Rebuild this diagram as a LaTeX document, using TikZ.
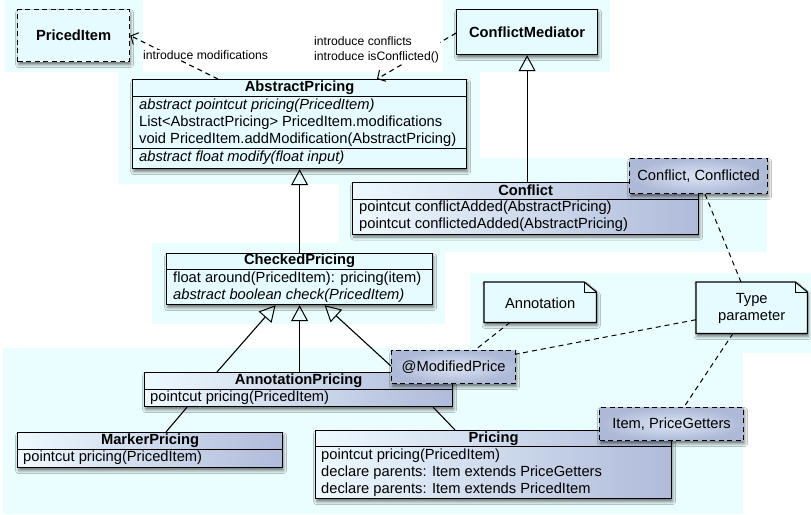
\documentclass[tikz,border=0pt]{standalone}
\usepackage{fontspec}
\setmainfont{Liberation Sans}
\usetikzlibrary{arrows.meta,shadows.blur}

\definecolor{patch}{HTML}{EBFEFF}
\definecolor{pale}{HTML}{E6FBFF}
\definecolor{gradlo}{HTML}{EEF9FF}
\definecolor{gradhi}{HTML}{AFBBD9}
\definecolor{tagin}{HTML}{DCE5F3}
\definecolor{tagout}{HTML}{AEB9D7}

\tikzset{
  castshadow/.style={blur shadow={shadow xshift=1pt, shadow yshift=-3pt,
      shadow blur radius=3pt, shadow opacity=55}},
  box/.style={draw=black, line width=1.2pt, rectangle, inner sep=0pt,
      anchor=north west, castshadow},
  plainbox/.style={box, fill=pale},
  gradbox/.style={box, left color=gradlo, right color=gradhi},
  tagbox/.style={box, dash pattern=on 5pt off 3.5pt, inner color=tagin, outer color=tagout,
      font=\fontsize{14.7}{17}\selectfont},
  notebox/.style={inner sep=0pt, anchor=north west},
  notefill/.style={draw=black, line width=1.2pt, fill=pale, castshadow, line join=miter},
  ttl/.style={font=\bfseries\fontsize{14.7}{17}\selectfont, inner sep=0pt},
  row/.style={font=\fontsize{14.7}{17}\selectfont, inner sep=0pt, anchor=west},
  irow/.style={row, font=\itshape\fontsize{14.7}{17}\selectfont},
  txt/.style={font=\fontsize{14.7}{17}\selectfont, inner sep=0pt, align=center},
  lbl/.style={font=\fontsize{12.2}{15}\selectfont, inner sep=1pt, fill=white, align=left, anchor=west},
  divider/.style={line width=1pt},
  gen/.style={line width=1.1pt, -{Triangle[open, length=16pt, width=17pt, line width=1pt]}},
  dep/.style={line width=1.1pt, dash pattern=on 5pt off 4pt,
      -{Straight Barb[length=6pt, width=13pt, line width=1pt]}},
  assoc/.style={line width=1.1pt},
  tie/.style={line width=1pt, dash pattern=on 5pt off 4pt},
}

\begin{document}
\begin{tikzpicture}[x=1pt, y=-1pt]
  \useasboundingbox (0,0) rectangle (811,514);
  \fill[white] (0,0) rectangle (811,514);

  % pale cyan layout regions
  \fill[patch] (4,0) rectangle (143,72);
  \fill[patch] (443,0) rectangle (610,72);
  \fill[patch] (118,72) rectangle (480,184);
  \fill[patch] (339,158) rectangle (767,252);
  \fill[patch] (152,243) rectangle (445,324);
  \fill[patch] (470,273) rectangle (811,353);
  \fill[patch] (3,348) rectangle (743,514);

  % ---------- PricedItem ----------
  \node[plainbox, dash pattern=on 5pt off 3.5pt, minimum width=112pt, minimum height=52pt,
        font=\bfseries\fontsize{14.7}{17}\selectfont] (pi) at (17,9) {PricedItem};

  % ---------- ConflictMediator ----------
  \node[plainbox, minimum width=141pt, minimum height=45pt,
        font=\bfseries\fontsize{14.7}{17}\selectfont] (cm) at (456,9) {ConflictMediator};

  % ---------- AbstractPricing ----------
  \node[plainbox, minimum width=334pt, minimum height=89pt] (abs) at (132,79) {};
  \node[ttl] at ([yshift=-8.5pt]abs.north) {AbstractPricing};
  \draw[divider] ([yshift=-17.5pt]abs.north west) -- ([yshift=-17.5pt]abs.north east);
  \node[irow] at ([xshift=7pt, yshift=-27pt]abs.north west) {abstract pointcut pricing(PricedItem)};
  \node[row]  at ([xshift=7pt, yshift=-44pt]abs.north west) {List<AbstractPricing> PricedItem.modifications};
  \node[row]  at ([xshift=7pt, yshift=-61pt]abs.north west) {void PricedItem.addModification(AbstractPricing)};
  \draw[divider] ([yshift=-69pt]abs.north west) -- ([yshift=-69pt]abs.north east);
  \node[irow] at ([xshift=7pt, yshift=-79pt]abs.north west) {abstract float modify(float input)};

  % ---------- Conflict ----------
  \node[gradbox, minimum width=346pt, minimum height=51.5pt] (cf) at (352,182) {};
  \node[ttl] at ([yshift=-8.5pt]cf.north) {Conflict};
  \draw[divider] ([yshift=-17pt]cf.north west) -- ([yshift=-17pt]cf.north east);
  \node[row] at ([xshift=7pt, yshift=-26pt]cf.north west) {pointcut conflictAdded(AbstractPricing)};
  \node[row] at ([xshift=7pt, yshift=-43pt]cf.north west) {pointcut conflictedAdded(AbstractPricing)};

  \node[tagbox, minimum width=138pt, minimum height=35pt] (cc) at (629,158) {Conflict, Conflicted};

  % ---------- CheckedPricing ----------
  \node[plainbox, minimum width=266pt, minimum height=51pt] (chk) at (166,253) {};
  \node[ttl] at ([yshift=-8pt]chk.north) {CheckedPricing};
  \draw[divider] ([yshift=-16.5pt]chk.north west) -- ([yshift=-16.5pt]chk.north east);
  \node[row]  at ([xshift=7pt, yshift=-26pt]chk.north west) {float around(PricedItem): pricing(item)};
  \node[irow] at ([xshift=7pt, yshift=-43pt]chk.north west) {abstract boolean check(PricedItem)};

  % ---------- notes ----------
  \path node[notebox, minimum width=112pt, minimum height=40pt] (ann) at (484,282) {};
  \draw[notefill] (ann.north west) -- ([xshift=-12pt]ann.north east)
        -- ([yshift=-10pt]ann.north east) -- (ann.south east) -- (ann.south west) -- cycle;
  \draw[line width=1pt] ([xshift=-12pt]ann.north east) -- ([xshift=-12pt, yshift=-10pt]ann.north east)
        -- ([yshift=-10pt]ann.north east);
  \node[txt] at ([yshift=-1pt]ann.center) {Annotation};

  \path node[notebox, minimum width=111pt, minimum height=51pt] (tp) at (696,282) {};
  \draw[notefill] (tp.north west) -- ([xshift=-12pt]tp.north east)
        -- ([yshift=-10pt]tp.north east) -- (tp.south east) -- (tp.south west) -- cycle;
  \draw[line width=1pt] ([xshift=-12pt]tp.north east) -- ([xshift=-12pt, yshift=-10pt]tp.north east)
        -- ([yshift=-10pt]tp.north east);
  \node[txt] at ([yshift=-1pt]tp.center) {Type\\parameter};

  % ---------- AnnotationPricing ----------
  \node[gradbox, minimum width=308pt, minimum height=34pt] (ap) at (144,372) {};
  \node[ttl] at ([yshift=-8.5pt]ap.north) {AnnotationPricing};
  \draw[divider] ([yshift=-17pt]ap.north west) -- ([yshift=-17pt]ap.north east);
  \node[row] at ([xshift=6pt, yshift=-25.5pt]ap.north west) {pointcut pricing(PricedItem)};

  \node[tagbox, minimum width=124pt, minimum height=33pt] (mp) at (391,350) {@ModifiedPrice};

  % ---------- MarkerPricing ----------
  \node[gradbox, minimum width=265pt, minimum height=35pt] (mk) at (17,432) {};
  \node[ttl] at ([yshift=-9pt]mk.north) {MarkerPricing};
  \draw[divider] ([yshift=-17.5pt]mk.north west) -- ([yshift=-17.5pt]mk.north east);
  \node[row] at ([xshift=6pt, yshift=-26pt]mk.north west) {pointcut pricing(PricedItem)};

  % ---------- Pricing ----------
  \node[gradbox, minimum width=356pt, minimum height=68pt] (pr) at (315,430) {};
  \node[ttl] at ([yshift=-8.5pt]pr.north) {Pricing};
  \draw[divider] ([yshift=-16pt]pr.north west) -- ([yshift=-16pt]pr.north east);
  \node[row] at ([xshift=6pt, yshift=-26pt]pr.north west) {pointcut pricing(PricedItem)};
  \node[row] at ([xshift=6pt, yshift=-43pt]pr.north west) {declare parents: Item extends PriceGetters};
  \node[row] at ([xshift=6pt, yshift=-60pt]pr.north west) {declare parents: Item extends PricedItem};

  \node[tagbox, minimum width=144pt, minimum height=33pt] (ig) at (599,407) {Item, PriceGetters};

  % ---------- generalizations ----------
  \draw[gen] (chk.north) -- (abs.south);
  \draw[gen] (cm.south |- cf.north) -- (cm.south);
  \draw[gen] ([xshift=73pt]ap.north west) -- ([xshift=-24pt]chk.south);
  \draw[gen] (chk.south |- ap.north) -- (chk.south);
  \draw[gen] ([yshift=1pt]mp.west) -- ([xshift=25pt]chk.south);

  % ---------- plain associations ----------
  \draw[assoc] ([xshift=43pt]ap.south west) -- ([xshift=149pt]mk.north west);
  \draw[assoc] ([xshift=-20pt]ap.south east) -- ([xshift=140pt]pr.north west);

  % ---------- note and parameter links ----------
  \draw[tie] ([xshift=26pt]ann.south west) -- ([xshift=84pt]mp.north west);
  \draw[tie] ([yshift=-12pt]tp.west) -- ([yshift=13pt]mp.east);
  \draw[tie] ([xshift=37pt]tp.south west) -- ([xshift=85pt]ig.north west);
  \draw[tie] ([xshift=76pt]cc.south west) -- ([xshift=45pt]tp.north west);

  % ---------- introductions ----------
  \draw[dep] ([xshift=86pt]abs.north west) -- (pi.east);
  \draw[dep] ([yshift=-1pt]cm.west) -- ([xshift=245pt]abs.north west);
  \node[lbl] (lmod) at (142,55) {introduce modifications};
  \node[lbl] (lconf) at (313,49.5) {introduce conflicts\\introduce isConflicted()};
\end{tikzpicture}
\end{document}
